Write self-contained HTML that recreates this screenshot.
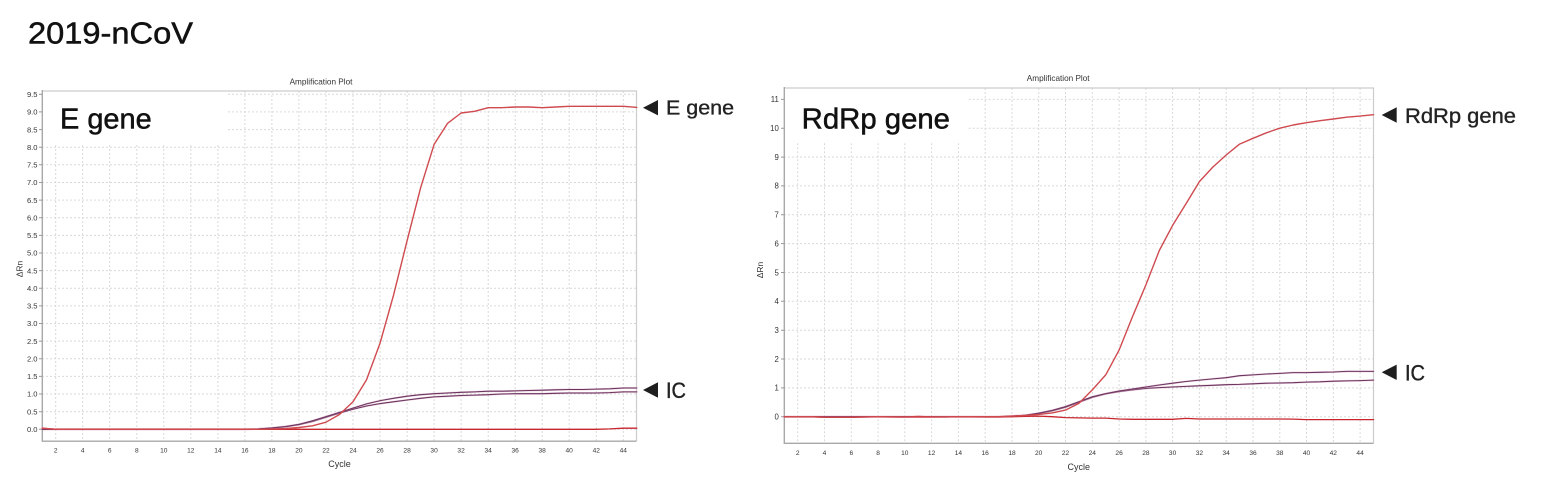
<!DOCTYPE html>
<html>
<head>
<meta charset="utf-8">
<style>
  html, body { margin: 0; padding: 0; background: #ffffff; }
  body { width: 1542px; height: 480px; overflow: hidden; }
  svg { display: block; }
  .tk { font-family: "Liberation Sans", Arial, sans-serif; fill: #333; }
  .big { font-family: "Liberation Sans", Arial, sans-serif; fill: #111; stroke: #111; stroke-width: 0.5; }
  .ann { font-family: "Liberation Sans", Arial, sans-serif; fill: #222; stroke: #222; stroke-width: 0.35; }
</style>
</head>
<body>
<svg width="1542" height="480" viewBox="0 0 1542 480" xmlns="http://www.w3.org/2000/svg">
  <rect x="0" y="0" width="1542" height="480" fill="#ffffff"/>

  <!-- Title -->
  <text class="big" x="28" y="43.3" font-size="31" textLength="165" lengthAdjust="spacingAndGlyphs">2019-nCoV</text>

  <!-- ================= LEFT CHART ================= -->
  <text class="tk" x="321" y="84.5" font-size="8.2" text-anchor="middle" fill="#222">Amplification Plot</text>

  <g stroke="#d9d9d9" stroke-width="1" stroke-dasharray="2,2" fill="none">
    <path d="M42 429.3H636M42 411.7H636M42 394.0H636M42 376.4H636M42 358.8H636M42 341.1H636M42 323.5H636M42 305.9H636M42 288.2H636M42 270.6H636M42 253.0H636M42 235.4H636M42 217.7H636M42 200.1H636M42 182.5H636M42 164.8H636M42 147.2H636M228 129.6H636M228 111.9H636M228 94.3H636"/>
    <path d="M55.7 145V441M82.7 145V441M109.7 145V441M136.8 145V441M163.8 145V441M190.8 145V441M217.9 145V441M244.9 91V441M271.9 91V441M298.9 91V441M326.0 91V441M353.0 91V441M380.0 91V441M407.1 91V441M434.1 91V441M461.1 91V441M488.2 91V441M515.2 91V441M542.2 91V441M569.2 91V441M596.3 91V441M623.3 91V441"/>
  </g>
  <path d="M42 91H636.5V441" stroke="#cccccc" stroke-width="1.2" fill="none"/>
  <path d="M42.3 90V441.2H636.5" stroke="#a8a8a8" stroke-width="1.4" fill="none"/>
  <g stroke="#999" stroke-width="1">
    <path d="M39 429.3H42M39 411.7H42M39 394.0H42M39 376.4H42M39 358.8H42M39 341.1H42M39 323.5H42M39 305.9H42M39 288.2H42M39 270.6H42M39 253.0H42M39 235.4H42M39 217.7H42M39 200.1H42M39 182.5H42M39 164.8H42M39 147.2H42M39 129.6H42M39 111.9H42M39 94.3H42"/>
  </g>
  <g class="tk" font-size="7.6" text-anchor="end">
    <text x="37.5" y="432">0.0</text>
    <text x="37.5" y="414.4">0.5</text>
    <text x="37.5" y="396.7">1.0</text>
    <text x="37.5" y="379.1">1.5</text>
    <text x="37.5" y="361.5">2.0</text>
    <text x="37.5" y="343.8">2.5</text>
    <text x="37.5" y="326.2">3.0</text>
    <text x="37.5" y="308.6">3.5</text>
    <text x="37.5" y="290.9">4.0</text>
    <text x="37.5" y="273.3">4.5</text>
    <text x="37.5" y="255.7">5.0</text>
    <text x="37.5" y="238.1">5.5</text>
    <text x="37.5" y="220.4">6.0</text>
    <text x="37.5" y="202.8">6.5</text>
    <text x="37.5" y="185.2">7.0</text>
    <text x="37.5" y="167.5">7.5</text>
    <text x="37.5" y="149.9">8.0</text>
    <text x="37.5" y="132.3">8.5</text>
    <text x="37.5" y="114.6">9.0</text>
    <text x="37.5" y="97.0">9.5</text>
  </g>
  <g class="tk" font-size="6.6" text-anchor="middle">
    <text x="55.7" y="452.5">2</text>
    <text x="82.7" y="452.5">4</text>
    <text x="109.7" y="452.5">6</text>
    <text x="136.8" y="452.5">8</text>
    <text x="163.8" y="452.5">10</text>
    <text x="190.8" y="452.5">12</text>
    <text x="217.9" y="452.5">14</text>
    <text x="244.9" y="452.5">16</text>
    <text x="271.9" y="452.5">18</text>
    <text x="298.9" y="452.5">20</text>
    <text x="326.0" y="452.5">22</text>
    <text x="353.0" y="452.5">24</text>
    <text x="380.0" y="452.5">26</text>
    <text x="407.1" y="452.5">28</text>
    <text x="434.1" y="452.5">30</text>
    <text x="461.1" y="452.5">32</text>
    <text x="488.2" y="452.5">34</text>
    <text x="515.2" y="452.5">36</text>
    <text x="542.2" y="452.5">38</text>
    <text x="569.2" y="452.5">40</text>
    <text x="596.3" y="452.5">42</text>
    <text x="623.3" y="452.5">44</text>
  </g>
  <text class="tk" x="339.5" y="467" font-size="9" text-anchor="middle">Cycle</text>
  <text class="tk" x="0" y="0" font-size="8.5" text-anchor="middle" transform="translate(22.5 269) rotate(-90)">ΔRn</text>

  <g fill="none" stroke-linejoin="round" stroke-linecap="round">
    <polyline stroke="#d79ab4" stroke-width="2" stroke-opacity="0.45" points="42.2,429.3 244.9,429.3 258.4,428.9 271.9,428.2 285.4,426.8 298.9,424.7 312.5,421.5 326.0,417.3 339.5,413.1 353.0,409.2 366.5,406.0 380.0,403.6 393.5,401.8 407.1,400.0 420.6,398.3 434.1,396.9 447.6,396.2 461.1,395.5 474.6,395.1 488.2,394.7 501.7,394.0 515.2,393.7 528.7,393.7 542.2,393.7 555.7,393.3 569.2,393.0 582.8,393.0 596.3,393.0 609.8,392.6 623.3,391.9 636.8,391.9"/>
    <polyline stroke="#6a3560" stroke-width="1.05" points="42.2,429.3 244.9,429.3 258.4,428.9 271.9,428.2 285.4,426.8 298.9,424.7 312.5,421.5 326.0,417.3 339.5,413.1 353.0,409.2 366.5,406.0 380.0,403.6 393.5,401.8 407.1,400.0 420.6,398.3 434.1,396.9 447.6,396.2 461.1,395.5 474.6,395.1 488.2,394.7 501.7,394.0 515.2,393.7 528.7,393.7 542.2,393.7 555.7,393.3 569.2,393.0 582.8,393.0 596.3,393.0 609.8,392.6 623.3,391.9 636.8,391.9"/>
    <polyline stroke="#d79ab4" stroke-width="2" stroke-opacity="0.45" points="42.2,429.3 244.9,429.3 258.4,428.9 271.9,427.9 285.4,426.5 298.9,424.4 312.5,420.8 326.0,416.6 339.5,412.4 353.0,408.1 366.5,403.9 380.0,400.7 393.5,398.3 407.1,396.2 420.6,394.7 434.1,393.7 447.6,393.0 461.1,392.3 474.6,391.9 488.2,391.2 501.7,391.2 515.2,390.9 528.7,390.5 542.2,390.2 555.7,389.8 569.2,389.5 582.8,389.5 596.3,389.1 609.8,388.8 623.3,388.0 636.8,388.0"/>
    <polyline stroke="#6a3560" stroke-width="1.05" points="42.2,429.3 244.9,429.3 258.4,428.9 271.9,427.9 285.4,426.5 298.9,424.4 312.5,420.8 326.0,416.6 339.5,412.4 353.0,408.1 366.5,403.9 380.0,400.7 393.5,398.3 407.1,396.2 420.6,394.7 434.1,393.7 447.6,393.0 461.1,392.3 474.6,391.9 488.2,391.2 501.7,391.2 515.2,390.9 528.7,390.5 542.2,390.2 555.7,389.8 569.2,389.5 582.8,389.5 596.3,389.1 609.8,388.8 623.3,388.0 636.8,388.0"/>
    <polyline stroke="#c8262e" stroke-width="1.3" points="42.2,428.2 55.7,429.3 596.3,429.3 609.8,428.9 623.3,428.2 636.8,428.2"/>
    <polyline stroke="#cf4a4f" stroke-width="1.4" points="42.2,428.2 55.7,429.3 244.9,429.3 258.4,429.3 271.9,428.9 285.4,428.6 298.9,427.5 312.5,425.8 326.0,422.2 339.5,414.5 353.0,401.8 366.5,379.9 380.0,343.3 393.5,295.3 407.1,240.7 420.6,187.8 434.1,144.4 447.6,123.3 461.1,113.0 474.6,111.3 488.2,107.7 501.7,107.7 515.2,107.0 528.7,107.0 542.2,107.7 555.7,107.0 569.2,106.3 582.8,106.3 596.3,106.3 609.8,106.3 623.3,106.3 636.8,107.4"/>
  </g>

  <text class="big" x="60" y="128.3" font-size="29" textLength="91.7" lengthAdjust="spacingAndGlyphs">E gene</text>

  <polygon points="643,107.7 658,100 658,115.4" fill="#1e1e1e"/>
  <text class="ann" x="666" y="114.3" font-size="20" textLength="68" lengthAdjust="spacingAndGlyphs">E gene</text>
  <polygon points="643,390 658,382.3 658,397.7" fill="#1e1e1e"/>
  <text class="ann" x="666" y="398" font-size="22" textLength="20" lengthAdjust="spacingAndGlyphs">IC</text>

  <!-- ================= RIGHT CHART ================= -->
  <text class="tk" x="1058.2" y="81" font-size="8.2" text-anchor="middle" fill="#222">Amplification Plot</text>

  <g stroke="#d9d9d9" stroke-width="1" stroke-dasharray="2,2" fill="none">
    <path d="M784 416.7H1373M784 387.9H1373M784 359.0H1373M784 330.2H1373M784 301.3H1373M784 272.5H1373M784 243.6H1373M784 214.8H1373M784 185.9H1373M784 157.1H1373M968.7 128.2H1373M968.7 99.4H1373"/>
    <path d="M797.7 143.3V443M824.5 143.3V443M851.3 143.3V443M878.1 143.3V443M904.8 143.3V443M931.6 143.3V443M958.4 143.3V443M985.2 88V443M1012.0 88V443M1038.7 88V443M1065.5 88V443M1092.3 88V443M1119.1 88V443M1145.9 88V443M1172.6 88V443M1199.4 88V443M1226.2 88V443M1253.0 88V443M1279.8 88V443M1306.5 88V443M1333.3 88V443M1360.1 88V443"/>
  </g>
  <path d="M784 88H1373.5V443" stroke="#cccccc" stroke-width="1.2" fill="none"/>
  <path d="M784.3 87V443.3H1373.5" stroke="#a8a8a8" stroke-width="1.4" fill="none"/>
  <g stroke="#999" stroke-width="1">
    <path d="M781 416.7H784M781 387.9H784M781 359.0H784M781 330.2H784M781 301.3H784M781 272.5H784M781 243.6H784M781 214.8H784M781 185.9H784M781 157.1H784M781 128.2H784M781 99.4H784"/>
  </g>
  <g class="tk" font-size="7.8" text-anchor="end">
    <text x="778.8" y="419.5">0</text>
    <text x="778.8" y="390.7">1</text>
    <text x="778.8" y="361.8">2</text>
    <text x="778.8" y="333.0">3</text>
    <text x="778.8" y="304.1">4</text>
    <text x="778.8" y="275.3">5</text>
    <text x="778.8" y="246.4">6</text>
    <text x="778.8" y="217.6">7</text>
    <text x="778.8" y="188.7">8</text>
    <text x="778.8" y="159.9">9</text>
    <text x="778.8" y="131.0">10</text>
    <text x="778.8" y="102.2">11</text>
  </g>
  <g class="tk" font-size="6.6" text-anchor="middle">
    <text x="797.7" y="454.8">2</text>
    <text x="824.5" y="454.8">4</text>
    <text x="851.3" y="454.8">6</text>
    <text x="878.1" y="454.8">8</text>
    <text x="904.8" y="454.8">10</text>
    <text x="931.6" y="454.8">12</text>
    <text x="958.4" y="454.8">14</text>
    <text x="985.2" y="454.8">16</text>
    <text x="1012.0" y="454.8">18</text>
    <text x="1038.7" y="454.8">20</text>
    <text x="1065.5" y="454.8">22</text>
    <text x="1092.3" y="454.8">24</text>
    <text x="1119.1" y="454.8">26</text>
    <text x="1145.9" y="454.8">28</text>
    <text x="1172.6" y="454.8">30</text>
    <text x="1199.4" y="454.8">32</text>
    <text x="1226.2" y="454.8">34</text>
    <text x="1253.0" y="454.8">36</text>
    <text x="1279.8" y="454.8">38</text>
    <text x="1306.5" y="454.8">40</text>
    <text x="1333.3" y="454.8">42</text>
    <text x="1360.1" y="454.8">44</text>
  </g>
  <text class="tk" x="1078.8" y="470" font-size="9" text-anchor="middle">Cycle</text>
  <text class="tk" x="0" y="0" font-size="8.5" text-anchor="middle" transform="translate(763 270) rotate(-90)">ΔRn</text>

  <g fill="none" stroke-linejoin="round" stroke-linecap="round">
    <polyline stroke="#d79ab4" stroke-width="2" stroke-opacity="0.45" points="784.3,416.7 998.6,416.7 1012.0,416.1 1025.4,415.3 1038.7,413.5 1052.1,410.9 1065.5,407.2 1078.9,402.3 1092.3,397.4 1105.7,393.9 1119.1,391.6 1132.5,389.9 1145.9,388.4 1159.3,387.6 1172.6,387.0 1186.0,386.4 1199.4,385.8 1212.8,385.3 1226.2,384.7 1239.6,384.4 1253.0,383.8 1266.4,383.2 1279.8,383.0 1293.1,382.7 1306.5,382.1 1319.9,381.8 1333.3,381.2 1346.7,380.9 1360.1,380.6 1373.5,380.1"/>
    <polyline stroke="#6a3560" stroke-width="1.05" points="784.3,416.7 998.6,416.7 1012.0,416.1 1025.4,415.3 1038.7,413.5 1052.1,410.9 1065.5,407.2 1078.9,402.3 1092.3,397.4 1105.7,393.9 1119.1,391.6 1132.5,389.9 1145.9,388.4 1159.3,387.6 1172.6,387.0 1186.0,386.4 1199.4,385.8 1212.8,385.3 1226.2,384.7 1239.6,384.4 1253.0,383.8 1266.4,383.2 1279.8,383.0 1293.1,382.7 1306.5,382.1 1319.9,381.8 1333.3,381.2 1346.7,380.9 1360.1,380.6 1373.5,380.1"/>
    <polyline stroke="#d79ab4" stroke-width="2" stroke-opacity="0.45" points="784.3,416.7 998.6,416.7 1012.0,416.1 1025.4,415.3 1038.7,413.2 1052.1,410.4 1065.5,406.6 1078.9,401.7 1092.3,396.8 1105.7,393.6 1119.1,391.0 1132.5,389.0 1145.9,387.0 1159.3,385.0 1172.6,383.2 1186.0,381.5 1199.4,380.1 1212.8,378.9 1226.2,377.7 1239.6,375.7 1253.0,374.9 1266.4,374.0 1279.8,373.4 1293.1,372.6 1306.5,372.6 1319.9,372.3 1333.3,372.0 1346.7,371.4 1360.1,371.4 1373.5,371.4"/>
    <polyline stroke="#6a3560" stroke-width="1.05" points="784.3,416.7 998.6,416.7 1012.0,416.1 1025.4,415.3 1038.7,413.2 1052.1,410.4 1065.5,406.6 1078.9,401.7 1092.3,396.8 1105.7,393.6 1119.1,391.0 1132.5,389.0 1145.9,387.0 1159.3,385.0 1172.6,383.2 1186.0,381.5 1199.4,380.1 1212.8,378.9 1226.2,377.7 1239.6,375.7 1253.0,374.9 1266.4,374.0 1279.8,373.4 1293.1,372.6 1306.5,372.6 1319.9,372.3 1333.3,372.0 1346.7,371.4 1360.1,371.4 1373.5,371.4"/>
    <polyline stroke="#c8262e" stroke-width="1.3" points="784.3,416.7 811.1,416.7 824.5,417.3 837.9,417.3 851.3,417.3 864.7,417.0 878.1,416.7 891.4,417.0 904.8,417.0 918.2,416.4 931.6,416.9 945.0,417.0 958.4,416.7 971.8,416.9 985.2,417.0 998.6,417.0 1012.0,416.7 1025.4,416.4 1038.7,416.1 1052.1,416.7 1065.5,417.6 1078.9,417.9 1092.3,418.1 1105.7,418.1 1119.1,419.0 1132.5,419.3 1145.9,419.3 1159.3,419.3 1172.6,419.3 1186.0,418.4 1199.4,419.0 1279.8,419.0 1293.1,419.1 1306.5,419.6 1373.5,419.6"/>
    <polyline stroke="#cf4a4f" stroke-width="1.4" points="784.3,416.7 811.1,416.7 824.5,417.2 851.3,417.2 878.1,416.7 904.8,417.0 931.6,417.0 958.4,416.7 998.6,416.7 1012.0,416.1 1025.4,415.5 1038.7,414.4 1052.1,412.9 1065.5,410.1 1078.9,403.4 1092.3,389.9 1105.7,374.9 1119.1,350.1 1132.5,316.6 1145.9,284.9 1159.3,250.5 1172.6,225.4 1186.0,203.8 1199.4,181.6 1212.8,167.1 1226.2,155.0 1239.6,144.1 1253.0,138.3 1266.4,132.8 1279.8,128.2 1293.1,125.0 1306.5,122.7 1319.9,120.7 1333.3,119.0 1346.7,117.2 1360.1,116.1 1373.5,114.7"/>
  </g>

  <text class="big" x="801.7" y="128.3" font-size="29" textLength="148.3" lengthAdjust="spacingAndGlyphs">RdRp gene</text>

  <polygon points="1381.7,115 1396.7,107.3 1396.7,122.7" fill="#1e1e1e"/>
  <text class="ann" x="1405" y="123" font-size="21" textLength="111" lengthAdjust="spacingAndGlyphs">RdRp gene</text>
  <polygon points="1381.7,372.3 1396.7,364.6 1396.7,380" fill="#1e1e1e"/>
  <text class="ann" x="1405" y="380.3" font-size="22" textLength="20" lengthAdjust="spacingAndGlyphs">IC</text>
</svg>
</body>
</html>
